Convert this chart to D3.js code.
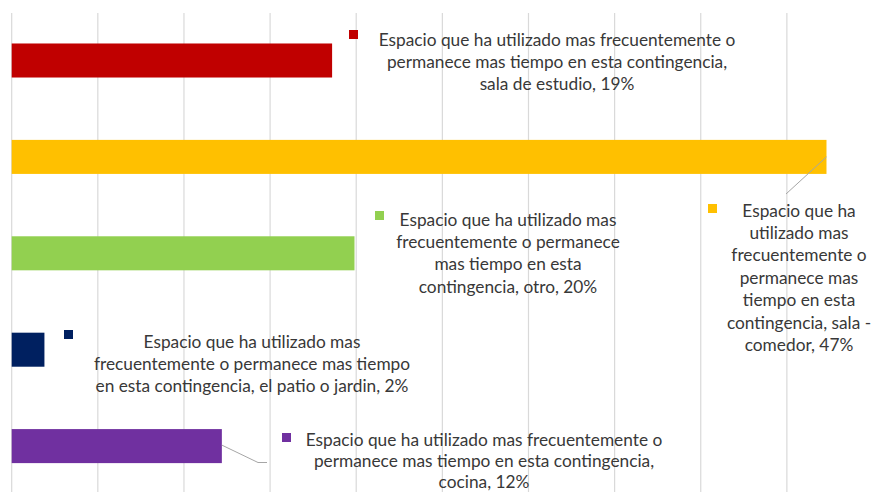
<!DOCTYPE html>
<html><head><meta charset="utf-8">
<script src="https://cdn.jsdelivr.net/npm/d3@7"></script>
<style>html,body{margin:0;padding:0;background:#fff;}svg{display:block;}</style>
</head><body>
<svg id="c" width="873" height="492"></svg>
<script>
const prefix = "Espacio que ha utilizado mas frecuentemente o permanece mas tiempo en esta contingencia";
const categories = ["sala de estudio", "sala - comedor", "otro", "el patio o jardin", "cocina"];
const values = [18.6, 47.3, 19.9, 1.9, 12.2];
const pctLabels = ["19%", "47%", "20%", "2%", "12%"];
const colors = ["#C00000", "#FFC000", "#92D050", "#002060", "#7030A0"];
const xTicks = [0, 5, 10, 15, 20, 25, 30, 35, 40, 45];

// layout of the data labels (line breaks, key square, centre of text, first line y)
const labelBreaks = [
  [45, 88],
  [14, 28, 45, 59, 74, 95],
  [28, 55, 74],
  [28, 66],
  [45, 88]
];
const labelLayout = [
  {sx: 349, sy: 30, cx: 557, y0: 39},
  {sx: 708, sy: 204, cx: 799, y0: 210},
  {sx: 375, sy: 211, cx: 508, y0: 219},
  {sx: 64, sy: 330, cx: 252, y0: 341},
  {sx: 282, sy: 433, cx: 484, y0: 439.5}
];
const lineH = 22.4;

const svg = d3.select("#c");
const W = 873, H = 492;
const x = d3.scaleLinear().domain([0, 50]).range([11.7, 873]);
const y = d3.scaleBand().domain(categories).range([12.3, 494.3]).paddingInner(0.647).paddingOuter(0.3235);

// gridlines
svg.append("g").selectAll("line").data(xTicks).join("line")
  .attr("x1", d => x(d)).attr("x2", d => x(d))
  .attr("y1", 13).attr("y2", H)
  .attr("stroke", "#d9d9d9").attr("stroke-width", 1.2);

// bars
svg.append("g").selectAll("rect").data(categories).join("rect")
  .attr("x", x(0)).attr("y", d => y(d))
  .attr("width", (d, i) => x(values[i]) - x(0))
  .attr("height", y.bandwidth())
  .attr("fill", (d, i) => colors[i]);

// leader lines
const yb = i => y(categories[i]);
svg.append("path")
  .attr("d", `M${x(values[1])},${yb(1) + y.bandwidth()/2} L786,194`)
  .attr("stroke", "#a6a6a6").attr("fill", "none").attr("stroke-width", 1);
svg.append("path")
  .attr("d", `M${x(values[4])},${yb(4) + y.bandwidth()/2 - 1} L258,462.5 L267,462.5`)
  .attr("stroke", "#a6a6a6").attr("fill", "none").attr("stroke-width", 1);

// data labels
categories.forEach((c, i) => {
  const full = prefix + ", " + c + ", " + pctLabels[i];
  const br = labelBreaks[i];
  const lines = [];
  let s = 0;
  br.forEach(b => { lines.push(full.slice(s, b).trim()); s = b; });
  lines.push(full.slice(s).trim());
  const L = labelLayout[i];
  svg.append("rect").attr("x", L.sx).attr("y", L.sy).attr("width", 9).attr("height", 9)
    .attr("fill", colors[i]);
  const lh = i === 4 ? 21.2 : lineH;
  const t = svg.append("text")
    .attr("font-family", "Lato, 'Open Sans', sans-serif")
    .attr("font-size", 17.3)
    .attr("fill", "#383838")
    .attr("text-anchor", "middle");
  lines.forEach((ln, k) => {
    t.append("tspan").attr("x", L.cx).attr("y", L.y0 + k * lh)
      .attr("dominant-baseline", "central").text(ln);
  });
});
</script>
</body></html>
